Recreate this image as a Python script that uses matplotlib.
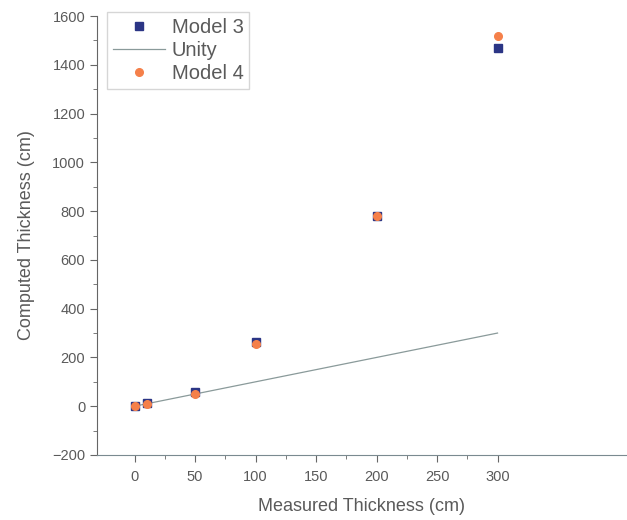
import matplotlib.pyplot as plt

# datos
measured = [0, 10, 50, 100, 200, 300]
model3 = [0, 15, 60, 262, 780, 1470]
model4 = [0, 8, 50, 255, 780, 1520]
unity_x = [0, 300]
unity_y = [0, 300]

plt.rcParams['font.family'] = ['Liberation Sans', 'DejaVu Sans']
txt = '#5a5a5a'

fig = plt.figure(figsize=(6.27, 5.2), dpi=100)
ax = fig.add_axes([97 / 627, 65 / 520, 1 - 97 / 627, 439 / 520])

ax.plot(measured, model3, 's', color='#2b3585', markersize=5.5, label='Model 3', zorder=3)
ax.plot(unity_x, unity_y, '-', color='#8a9a9a', linewidth=0.9, label='Unity', zorder=2)
ax.plot(measured, model4, 'o', color='#f5804a', markersize=5.5, label='Model 4', zorder=4)

ax.set_xlim(-31, 407)
ax.set_ylim(-200, 1600)
ax.set_xticks([0, 50, 100, 150, 200, 250, 300])
ax.set_xticks([25, 75, 125, 175, 225, 275], minor=True)
ax.set_yticks(range(-200, 1601, 200))
ax.set_yticks(range(-100, 1600, 200), minor=True)

for s in ['top', 'right']:
    ax.spines[s].set_visible(False)
ax.spines['left'].set_color('#666666')
ax.spines['bottom'].set_color('#7a8a90')
ax.tick_params(which='major', length=5, color='#666666', labelcolor=txt, labelsize=10.5)
ax.tick_params(axis='x', which='major', pad=6)
ax.tick_params(which='minor', length=3, color='#666666')

ax.set_xlabel('Measured Thickness (cm)', color=txt, fontsize=13, labelpad=10)
ax.set_ylabel('Computed Thickness (cm)', color=txt, fontsize=13, labelpad=12)

leg = ax.legend(loc='upper left', bbox_to_anchor=(0.019, 1.009), borderaxespad=0,
                fontsize=14.5, frameon=True, fancybox=False, borderpad=0.3,
                labelspacing=0.2, handlelength=2.6, handletextpad=0.3)
leg.get_frame().set_edgecolor('#cccccc')
for t in leg.get_texts():
    t.set_color(txt)

plt.savefig('out.png', dpi=100)
